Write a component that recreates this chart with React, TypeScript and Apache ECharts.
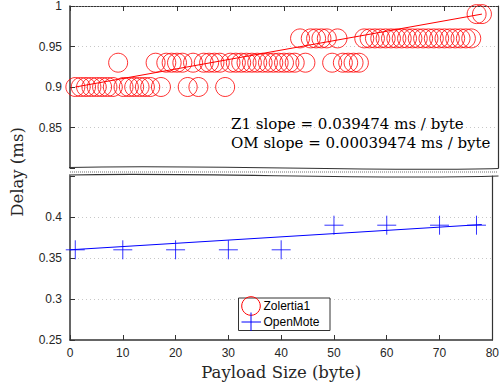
import React, { useEffect, useRef } from "react";
import * as echarts from "echarts";

// Zolertia1 measurements (payload in bytes, delay in ms)
const z1Payload = [
  1, 2, 3, 4, 5, 6, 7, 8, 9, 10, 11, 12, 13, 14, 15, 16, 17, 18, 19, 20,
  21, 22, 23, 24, 25, 26, 27, 28, 29, 30, 31, 32, 33, 34, 35, 36, 37, 38, 39, 40,
  41, 42, 43, 44, 45, 46, 47, 48, 49, 50, 51, 52, 53, 54, 55, 56, 57, 58, 59, 60,
  61, 62, 63, 64, 65, 66, 67, 68, 69, 70, 71, 72, 73, 74, 75, 76, 77,
];
const z1Delay = [
  0.9, 0.9, 0.9, 0.9, 0.9, 0.9, 0.9, 0.9, 0.93, 0.9, 0.9, 0.9, 0.9, 0.9, 0.9, 0.93, 0.9, 0.93, 0.93, 0.93,
  0.93, 0.9, 0.93, 0.9, 0.93, 0.93, 0.93, 0.93, 0.9, 0.93, 0.93, 0.93, 0.93, 0.93, 0.93, 0.93, 0.93, 0.93, 0.93, 0.93,
  0.93, 0.93, 0.96, 0.93, 0.96, 0.96, 0.96, 0.96, 0.93, 0.96, 0.93, 0.93, 0.93, 0.93, 0.96, 0.96, 0.96, 0.96, 0.96, 0.96,
  0.96, 0.96, 0.96, 0.96, 0.96, 0.96, 0.96, 0.96, 0.96, 0.96, 0.96, 0.96, 0.96, 0.96, 0.96, 0.99, 0.99,
];

// OpenMote measurements
const omPayload = [1, 10, 20, 30, 40, 50, 60, 70, 77];
const omDelay = [0.36, 0.36, 0.36, 0.36, 0.36, 0.39, 0.39, 0.39, 0.39];

// Fitted lines (end points)
const z1FitX = [1, 77];
const z1FitY = [0.9, 0.99];
const omFitX = [0, 78];
const omFitY = [0.36, 0.3908];

const annotations = ["Z1 slope = 0.039474 ms / byte", "OM slope = 0.00039474 ms / byte"];
const seriesNames = ["Zolertia1", "OpenMote"];
const xAxisTitle = "Payload Size (byte)";
const yAxisTitle = "Delay (ms)";

const AXIS = "#333333";
const LABEL = "#262626";
const SANS = "Liberation Sans, Arial, sans-serif";
const SERIF = "DejaVu Serif, serif";

function fmt(hide: number) {
  return (v: number) => (Math.abs(v - hide) < 1e-9 ? "" : String(+v.toFixed(2)));
}

export default function App() {
  const ref = useRef<HTMLDivElement>(null);
  useEffect(() => {
    if (!ref.current) return;
    const chart = echarts.init(ref.current, undefined, { renderer: "svg" });
    const splitLine = {
      show: true,
      showMinLine: false,
      showMaxLine: false,
      lineStyle: { color: "#c8c8c8", type: [1, 3] as any, width: 1 },
    };
    const yCommon = {
      type: "value" as const,
      interval: 0.05,
      axisLine: { show: true, onZero: false, lineStyle: { color: AXIS, width: 1.5 } },
      axisTick: { show: true, inside: true, length: 5, lineStyle: { color: AXIS } },
      axisLabel: { color: LABEL, fontSize: 12, fontFamily: SANS, margin: 8 },
      splitLine,
    };
    const rightBorder = {
      type: "value" as const,
      position: "right" as const,
      axisLine: { show: true, onZero: false, lineStyle: { color: AXIS, width: 1.2 } },
      axisTick: { show: false },
      axisLabel: { show: false },
      splitLine: { show: false },
    };
    const plusPath = "path://M10,0V20M0,10H20";
    chart.setOption({
      animation: false,
      backgroundColor: "#ffffff",
      grid: [
        { left: 70, right: 4, top: 4, height: 164 },
        { left: 70, right: 4, top: 176, height: 164 },
      ],
      xAxis: [
        {
          gridIndex: 0,
          type: "value",
          min: 0,
          max: 80,
          interval: 10,
          position: "top",
          axisLine: { show: true, onZero: false, lineStyle: { color: AXIS, width: 1, type: [2, 1] } },
          axisTick: { show: true, inside: true, length: 5, lineStyle: { color: AXIS } },
          axisLabel: { show: false },
          splitLine: { show: false },
        },
        {
          gridIndex: 1,
          type: "value",
          min: 0,
          max: 80,
          interval: 10,
          position: "bottom",
          axisLine: { show: true, onZero: false, lineStyle: { color: AXIS, width: 1.5 } },
          axisTick: { show: true, inside: true, length: 5, lineStyle: { color: AXIS } },
          axisLabel: { color: LABEL, fontSize: 12, fontFamily: SANS, margin: 7 },
          splitLine: { show: false },
          name: xAxisTitle,
          nameLocation: "middle",
          nameGap: 24,
          nameTextStyle: { color: LABEL, fontSize: 16.5, fontFamily: SERIF },
        },
      ],
      yAxis: [
        { ...yCommon, gridIndex: 0, min: 0.8, max: 1, axisLabel: { ...yCommon.axisLabel, formatter: fmt(0.8) } },
        { ...yCommon, gridIndex: 1, min: 0.25, max: 0.45, axisLabel: { ...yCommon.axisLabel, formatter: fmt(0.45) } },
        { ...rightBorder, gridIndex: 0, min: 0.8, max: 1 },
        { ...rightBorder, gridIndex: 1, min: 0.25, max: 0.45 },
      ],
      series: [
        {
          name: seriesNames[0],
          type: "scatter",
          xAxisIndex: 0,
          yAxisIndex: 0,
          clip: false,
          symbol: "circle",
          symbolSize: 19,
          itemStyle: { color: "none", borderColor: "#ff0000", borderWidth: 1 },
          data: z1Payload.map((x, i) => [x, z1Delay[i]]),
          z: 3,
        },
        {
          name: "Z1 fit",
          type: "line",
          xAxisIndex: 0,
          yAxisIndex: 0,
          symbol: "none",
          lineStyle: { color: "#ff0000", width: 1 },
          data: z1FitX.map((x, i) => [x, z1FitY[i]]),
          z: 4,
        },
        {
          name: seriesNames[1],
          type: "scatter",
          xAxisIndex: 1,
          yAxisIndex: 1,
          clip: false,
          symbol: plusPath,
          symbolSize: 19,
          itemStyle: { color: "none", borderColor: "#0000ff", borderWidth: 1 },
          data: omPayload.map((x, i) => [x, omDelay[i]]),
          z: 3,
        },
        {
          name: "OM fit",
          type: "line",
          xAxisIndex: 1,
          yAxisIndex: 1,
          symbol: "none",
          lineStyle: { color: "#0000ff", width: 1 },
          data: omFitX.map((x, i) => [x, omFitY[i]]),
          z: 4,
        },
      ],
      graphic: [
        // axis break
        {
          type: "line",
          shape: { x1: 70, y1: 172, x2: 498, y2: 172 },
          style: { stroke: "#b8b8b8", lineWidth: 2, lineDash: [1, 1] },
          z: 10,
        },
        {
          type: "bezierCurve",
          shape: { x1: 69, y1: 167.5, cpx1: 200, cpy1: 164, cpx2: 370, cpy2: 172, x2: 498.5, y2: 168.5 },
          style: { stroke: AXIS, lineWidth: 1.2, fill: "none" },
          z: 10,
        },
        {
          type: "bezierCurve",
          shape: { x1: 69, y1: 175, cpx1: 200, cpy1: 172, cpx2: 370, cpy2: 180, x2: 498.5, y2: 176 },
          style: { stroke: AXIS, lineWidth: 1.2, fill: "none" },
          z: 10,
        },
        // annotations
        {
          type: "text",
          x: 231,
          y: 124,
          style: { text: annotations[0], fill: "#000", fontSize: 15, fontFamily: SERIF, verticalAlign: "middle", align: "left" },
          z: 10,
        },
        {
          type: "text",
          x: 231,
          y: 143,
          style: { text: annotations[1], fill: "#000", fontSize: 15, fontFamily: SERIF, verticalAlign: "middle", align: "left" },
          z: 10,
        },
        // y axis title
        {
          type: "text",
          x: 17,
          y: 172,
          rotation: Math.PI / 2,
          style: { text: yAxisTitle, fill: LABEL, fontSize: 16.5, fontFamily: SERIF, align: "center", verticalAlign: "middle" },
          z: 10,
        },
        // legend
        {
          type: "rect",
          shape: { x: 238.5, y: 298, width: 91.5, height: 32.5 },
          style: { fill: "#fff", stroke: AXIS, lineWidth: 1 },
          z: 20,
        },
        {
          type: "circle",
          shape: { cx: 251, cy: 306, r: 9.3 },
          style: { fill: "none", stroke: "#ff0000", lineWidth: 1 },
          z: 21,
        },
        {
          type: "line",
          shape: { x1: 241.5, y1: 322, x2: 261, y2: 322 },
          style: { stroke: "#0000ff", lineWidth: 1 },
          z: 21,
        },
        {
          type: "line",
          shape: { x1: 251, y1: 312.5, x2: 251, y2: 331 },
          style: { stroke: "#0000ff", lineWidth: 1 },
          z: 21,
        },
        {
          type: "text",
          x: 263.5,
          y: 306,
          style: { text: seriesNames[0], fill: "#000", fontSize: 12, fontFamily: SANS, verticalAlign: "middle" },
          z: 21,
        },
        {
          type: "text",
          x: 263.5,
          y: 322,
          style: { text: seriesNames[1], fill: "#000", fontSize: 12, fontFamily: SANS, verticalAlign: "middle" },
          z: 21,
        },
      ],
    });
    return () => chart.dispose();
  }, []);
  return <div ref={ref} style={{ width: 502, height: 387, position: "absolute", left: 0, top: 0 }} />;
}
